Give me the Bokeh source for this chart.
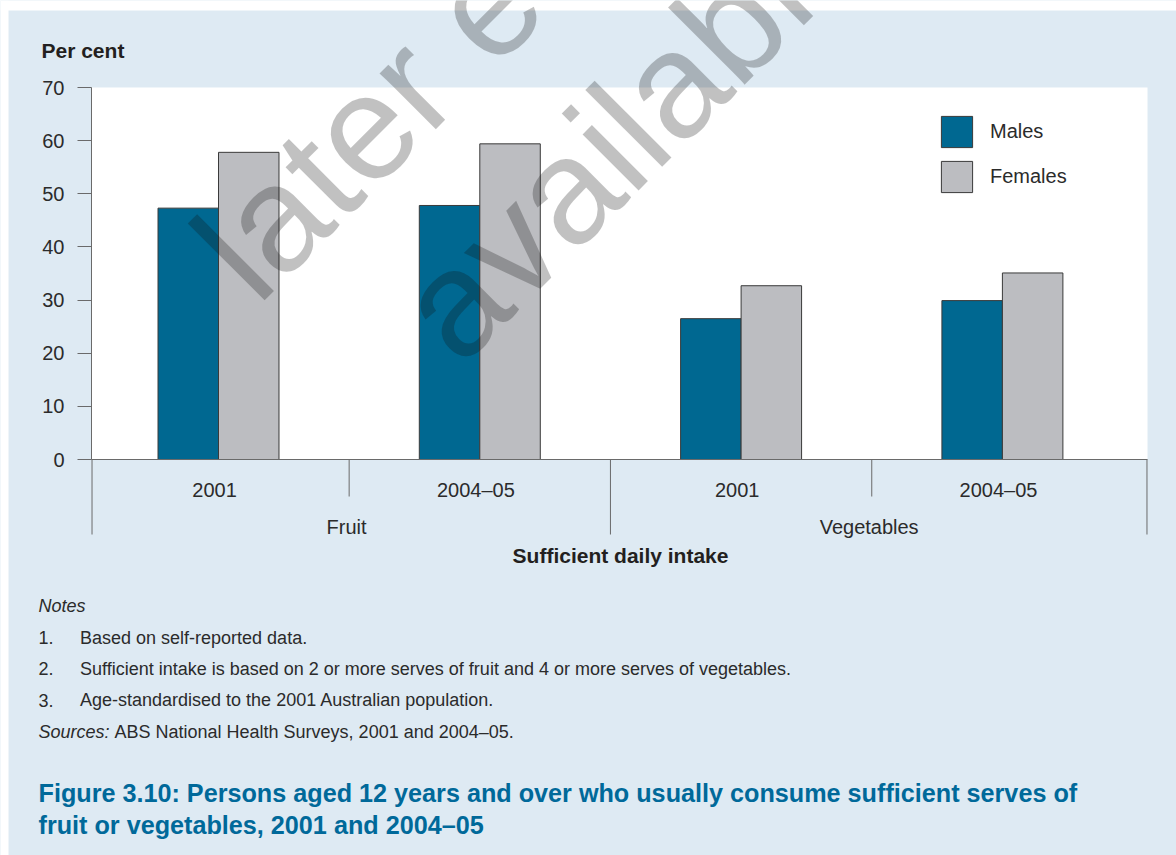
import math
from bokeh.plotting import figure
from bokeh.models import (Range1d, ColumnDataSource, FixedTicker, LinearAxis,
                          BoxAnnotation, Label, Legend, LegendItem)
from bokeh.transform import dodge
from bokeh.core.properties import value
from bokeh.embed import file_html
from bokeh.resources import INLINE

# ---------------- data ----------------
groups = ["Fruit", "Vegetables"]
periods = ["2001", "2004–05"]
males = [47.3, 47.8, 26.5, 29.9]
females = [57.8, 59.4, 32.7, 35.1]
series_names = ["Males", "Females"]
y_ticks = [0, 10, 20, 30, 40, 50, 60, 70]
y_title = "Per cent"
x_title = "Sufficient daily intake"
notes_heading = "Notes"
notes = [
    "Based on self-reported data.",
    "Sufficient intake is based on 2 or more serves of fruit and 4 or more serves of vegetables.",
    "Age-standardised to the 2001 Australian population.",
]
sources_heading = "Sources:"
sources_text = "ABS National Health Surveys, 2001 and 2004–05."
caption = [
    "Figure 3.10: Persons aged 12 years and over who usually consume sufficient serves of",
    "fruit or vegetables, 2001 and 2004–05",
]
watermark = ["later editions", "available"]

# ---------------- styles ----------------
BG = "#deeaf3"
MALE = "#006891"
FEMALE = "#bcbdc1"
OUTLINE = "#3a3a3a"
AXIS = "#6a6a6a"
TEXT = "#2b2b2b"
DARK = "#231f20"
TEAL = "#00699a"
FONT = "Liberation Sans"

W, H = 1176, 855
# layout (page pixels) -> data coordinates
CAT_PX0 = 218.0      # pixel of first category centre
CAT_UNIT = 261.3     # pixels per category
Y0_PX = 459.0        # pixel of y = 0
Y_UNIT = (459.0 - 87.0) / 70.0


def sx(px):
    return (px - CAT_PX0) / CAT_UNIT + 0.5


def sy(py):
    return (Y0_PX - py) / Y_UNIT


def mid(baseline_py, size):
    # vertical centre of the em box for a given baseline
    return sy(baseline_py - 0.3465 * size)


X_LEFT, X_RIGHT = sx(91), sx(1147)
Y_TOP = 70

p = figure(width=W, height=H,
           x_range=Range1d(sx(0), sx(W)), y_range=Range1d(sy(H), sy(0)),
           x_axis_location=None, y_axis_location=None,
           output_backend="svg", toolbar_location=None, tools="", min_border=0)
p.background_fill_color = BG
p.border_fill_color = BG
p.outline_line_color = None
p.grid.visible = False

# white page strips (top / left) and white plotting area
p.add_layout(BoxAnnotation(bottom=sy(10), fill_color="white", fill_alpha=1,
                           line_color=None, level="underlay"))
p.add_layout(BoxAnnotation(right=sx(8), fill_color="white", fill_alpha=1,
                           line_color=None, level="underlay"))
p.add_layout(BoxAnnotation(left=X_LEFT, right=X_RIGHT, bottom=0, top=Y_TOP,
                           fill_color="white", fill_alpha=1, line_color=None,
                           level="underlay"))

# ---------------- bars ----------------
cats = [(g, pr) for g in groups for pr in periods]
xc = [i + 0.5 for i in range(len(cats))]
BW = 0.2315
src = ColumnDataSource(dict(x=xc, males=males, females=females,
                            period=[c[1] for c in cats]))
r_m = p.vbar(x=dodge("x", -BW / 2), top="males", bottom=0, width=BW, source=src,
             fill_color=MALE, line_color=OUTLINE, line_width=1)
r_f = p.vbar(x=dodge("x", BW / 2), top="females", bottom=0, width=BW, source=src,
             fill_color=FEMALE, line_color=OUTLINE, line_width=1)

# ---------------- axes ----------------
yax = LinearAxis(fixed_location=X_LEFT, bounds=(0, Y_TOP),
                 ticker=FixedTicker(ticks=y_ticks))
yax.axis_line_color = AXIS
yax.major_tick_line_color = AXIS
yax.major_tick_in = 0
yax.major_tick_out = 14
yax.minor_tick_line_color = None
yax.major_label_text_font = FONT
yax.major_label_text_font_size = "20px"
yax.major_label_text_color = TEXT
yax.major_label_standoff = 13
p.add_layout(yax, "left")

# x axis baseline
p.segment(x0=[X_LEFT], x1=[X_RIGHT], y0=[0], y1=[0], line_color=AXIS, line_width=1)

# category separators
LONG, SHORT = sy(534), sy(496)
bx = [X_LEFT + 0.002]
by = [LONG]
for i in range(1, len(cats)):
    bx.append(float(i))
    by.append(LONG if cats[i][0] != cats[i - 1][0] else SHORT)
bx.append(X_RIGHT - 0.002)
by.append(LONG)
p.segment(x0=bx, x1=bx, y0=[0] * len(bx), y1=by, line_color=AXIS, line_width=1)

# category labels
p.text(x=dodge("x", -0.015), y=mid(496.5, 20), text="period", source=src,
       text_font=value(FONT), text_font_size=value("20px"), text_color=TEXT,
       text_align="center", text_baseline="middle")
gsrc = ColumnDataSource(dict(x=[2.0 * i + 1.0 - 0.01 for i in range(len(groups))],
                             label=groups))
p.text(x="x", y=mid(533, 20), text="label", source=gsrc,
       text_font=value(FONT), text_font_size=value("20px"), text_color=TEXT,
       text_align="center", text_baseline="middle")

# ---------------- legend ----------------
legend = Legend(items=[LegendItem(label=series_names[0], renderers=[r_m]),
                       LegendItem(label=series_names[1], renderers=[r_f])],
                location=(937, H - 112 - 84), glyph_width=39, glyph_height=39,
                spacing=6, padding=0, margin=0, border_line_color=None,
                background_fill_alpha=0, label_standoff=14, label_text_font=FONT,
                label_text_font_size="20px", label_text_color=TEXT)
p.add_layout(legend)


# ---------------- free texts ----------------
def add_text(px, baseline_py, text, size, style="normal", color=TEXT, align="left"):
    p.text(x=[sx(px)], y=[mid(baseline_py, size)], text=[text],
           text_font=value(FONT), text_font_size=value(f"{size}px"),
           text_font_style=style, text_color=color, text_align=align,
           text_baseline="middle")


add_text(41, 57.3, y_title, 21, "bold", DARK)
add_text(620, 562.3, x_title, 21, "bold", DARK, align="center")

NS = 18
add_text(38, 611.5, notes_heading, NS, "italic")
for i, n in enumerate(notes):
    bl = 643.3 + i * 31.3
    add_text(38, bl, f"{i + 1}.", NS)
    add_text(79.5, bl, n, NS)
add_text(38, 737.7, sources_heading, NS, "italic")
add_text(114, 737.7, sources_text, NS)

CS = 25.2
add_text(38, 801.5, caption[0], CS, "bold", TEAL)
add_text(38, 833, caption[1], CS, "bold", TEAL)

# ---------------- watermark ----------------
WM = 150
off = 0.3465 * WM / math.sqrt(2)
for (ox, oy), t in zip([(257, 307), (460, 368)], watermark):
    p.add_layout(Label(x=sx(ox - off), y=sy(oy - off), text=t, text_font=FONT,
                       text_font_size=f"{WM}px", text_color="#111111", text_alpha=0.26,
                       angle=math.pi / 4, text_align="left", text_baseline="middle"))

open("out.html", "w").write(file_html(p, INLINE))
